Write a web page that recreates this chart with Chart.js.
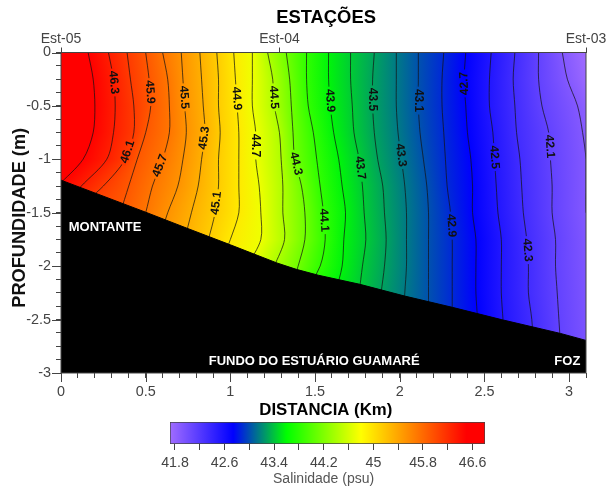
<!DOCTYPE html>
<html>
<head>
<meta charset="utf-8">
<title>Salinidade</title>
<script src="https://cdn.jsdelivr.net/npm/chart.js@4"></script>
<style>
    body { margin: 0; background: #fff; }
    #wrap { position: relative; width: 614px; height: 489px; }
    #mainChart { position: absolute; left: 0; top: 0; }
    #barChart { position: absolute; left: 130px; top: 413px; }
</style>
</head>
<body>
<div id="wrap">
    <canvas id="mainChart" width="614" height="489"></canvas>
    <canvas id="barChart" width="380" height="76"></canvas>
</div>
<script>
// depth levels (m) shared by every contour
const depthLevels = [0, -0.25, -0.5, -0.75, -1, -1.25, -1.5, -1.75, -2, -2.25, -2.5, -2.75];

// contour values (psu) and their distance (km) at each depth level
const contourValues = [46.5, 46.3, 46.1, 45.9, 45.7, 45.5, 45.3, 45.1, 44.9, 44.7, 44.5, 44.3, 44.1, 43.9, 43.7, 43.5, 43.3, 43.1, 42.9, 42.7, 42.5, 42.3, 42.1, 41.9];
const c465 = [0.16, 0.19, 0.20, 0.19, 0.13, -0.02];
const c463 = [0.28, 0.31, 0.32, 0.31, 0.27, 0.12, -0.02];
const c461 = [0.39, 0.41, 0.43, 0.43, 0.38, 0.25, 0.08, -0.01];
const c459 = [0.50, 0.52, 0.53, 0.50, 0.45, 0.40, 0.35, 0.30];
const c457 = [0.60, 0.63, 0.64, 0.64, 0.60, 0.54, 0.50, 0.45];
const c455 = [0.71, 0.72, 0.73, 0.74, 0.72, 0.69, 0.63, 0.58];
const c453 = [0.82, 0.83, 0.84, 0.85, 0.83, 0.81, 0.77, 0.73];
const c451 = [0.92, 0.93, 0.93, 0.94, 0.93, 0.93, 0.91, 0.87, 0.82];
const c449 = [1.02, 1.03, 1.04, 1.05, 1.05, 1.05, 1.05, 1.00, 0.94];
const c447 = [1.13, 1.13, 1.13, 1.15, 1.15, 1.17, 1.18, 1.18, 1.10];
const c445 = [1.22, 1.25, 1.26, 1.29, 1.30, 1.31, 1.31, 1.32, 1.26];
const c443 = [1.33, 1.35, 1.36, 1.37, 1.38, 1.42, 1.44, 1.44, 1.40, 1.35];
const c441 = [1.45, 1.45, 1.46, 1.49, 1.51, 1.53, 1.55, 1.56, 1.53, 1.44];
const c439 = [1.58, 1.58, 1.59, 1.61, 1.64, 1.66, 1.68, 1.67, 1.66, 1.62];
const c437 = [1.71, 1.71, 1.72, 1.73, 1.76, 1.78, 1.79, 1.80, 1.78, 1.76];
const c435 = [1.85, 1.84, 1.84, 1.85, 1.87, 1.90, 1.91, 1.92, 1.91, 1.89, 1.87];
const c433 = [1.98, 1.98, 1.98, 1.99, 2.01, 2.03, 2.04, 2.04, 2.04, 2.03, 2.02];
const c431 = [2.11, 2.11, 2.11, 2.12, 2.14, 2.16, 2.17, 2.17, 2.17, 2.17, 2.17];
const c429 = [2.26, 2.25, 2.25, 2.26, 2.27, 2.28, 2.30, 2.31, 2.31, 2.31, 2.31];
const c427 = [2.39, 2.38, 2.39, 2.40, 2.42, 2.43, 2.43, 2.45, 2.45, 2.45, 2.46];
const c425 = [2.54, 2.53, 2.53, 2.55, 2.56, 2.57, 2.58, 2.60, 2.60, 2.60, 2.61];
const c423 = [2.68, 2.67, 2.68, 2.69, 2.71, 2.72, 2.73, 2.75, 2.76, 2.76, 2.78, 2.79];
const c421 = [2.82, 2.82, 2.84, 2.88, 2.89, 2.90, 2.90, 2.92, 2.92, 2.93, 2.94, 2.95];
const c419 = [2.96, 2.99, 3.05, 3.08, 3.10, 3.10, 3.10, 3.12, 3.13, 3.14, 3.15, 3.16];
const contourDist = [c465, c463, c461, c459, c457, c455, c453, c451, c449, c447, c445, c443, c441, c439, c437, c435, c433, c431, c429, c427, c425, c423, c421, c419];

// river bed
const bedDist = [0, 0.5, 0.744, 1.0, 1.275, 1.39, 1.52, 1.765, 2.03, 2.31, 2.6, 2.95, 3.1];
const bedDepth = [-1.195, -1.495, -1.645, -1.80, -1.97, -2.03, -2.085, -2.17, -2.28, -2.385, -2.5, -2.63, -2.695];

// contour labels
const labelValues = [46.3, 45.9, 45.5, 44.9, 44.5, 43.9, 43.5, 43.1, 42.7, 46.1, 45.7, 45.3, 44.7, 44.3, 43.7, 43.3, 42.5, 42.1, 45.1, 44.1, 42.9, 42.3];
const labelDepths = [-0.28, -0.37, -0.42, -0.43, -0.42, -0.45, -0.44, -0.45, -0.29, -0.93, -1.06, -0.80, -0.87, -1.04, -1.08, -0.96, -0.98, -0.88, -1.41, -1.57, -1.62, -1.85];
const labelsUpward = [46.1, 45.7, 45.3, 45.1, 42.7];

// text on the black area
const noteTexts = ['MONTANTE', 'FUNDO DO ESTUÁRIO GUAMARÉ', 'FOZ'];
const noteDist = [0.26, 1.495, 2.99];
const noteDepth = [-1.64, -2.89, -2.89];

// axes
const xMajorTicks = [0, 0.5, 1, 1.5, 2, 2.5, 3];
const yMajorTicks = [0, -0.5, -1, -1.5, -2, -2.5, -3];
const stationDist = [0, 1.29, 3.1];
const stationNames = ['Est-05', 'Est-04', 'Est-03'];

// colour bar
const barMin = 41.72;
const barMax = 46.8;
const barTicks = [41.8, 42.2, 42.6, 43, 43.4, 43.8, 44.2, 44.6, 45, 45.4, 45.8, 46.2, 46.6];
const barLabels = [41.8, 42.6, 43.4, 44.2, 45, 45.8, 46.6];
const barColorValues = [41.72, 42.74, 43.17, 43.6, 44.8, 46.5, 46.8];
// the section reads slightly differently from its bar
const fieldColorValues = [41.72, 42.7, 43.33, 43.95, 44.75, 46.5, 46.8];
const colorRgb = [[160, 108, 255], [0, 0, 255], [0, 128, 128], [0, 255, 0], [255, 255, 0], [255, 0, 0], [255, 0, 0]];

const sansFont = "'Liberation Sans', Arial, sans-serif";
const tickColor = '#444';

function colorOf(value, stops) {
    if (value <= stops[0]) return `rgb(${colorRgb[0].join(',')})`;
    for (let i = 1; i < stops.length; i++) {
        if (value <= stops[i]) {
            const t = (value - stops[i - 1]) / (stops[i] - stops[i - 1]);
            const c = colorRgb[i].map((v, k) => Math.round(colorRgb[i - 1][k] + (v - colorRgb[i - 1][k]) * t));
            return `rgb(${c.join(',')})`;
        }
    }
    return `rgb(${colorRgb[colorRgb.length - 1].join(',')})`;
}

// distance of a contour at a given depth
function distAtDepth(dist, depth) {
    for (let i = 0; i < dist.length - 1; i++) {
        if (depth <= depthLevels[i] && depth >= depthLevels[i + 1]) {
            const t = (depthLevels[i] - depth) / (depthLevels[i] - depthLevels[i + 1]);
            return dist[i] + (dist[i + 1] - dist[i]) * t;
        }
    }
    return dist[dist.length - 1];
}

// colour field, one gradient per pixel row, stops sit on the contours
const fieldPlugin = {
    id: 'field',
    beforeDatasetsDraw(chart) {
        const { ctx, chartArea: a, scales: { x, y } } = chart;
        const x0 = x.getPixelForValue(-1);
        const x1 = x.getPixelForValue(4);
        const off = px => Math.min(1, Math.max(0, (px - x0) / (x1 - x0)));
        ctx.save();
        for (let py = Math.floor(a.top); py < a.bottom; py++) {
            const depth = y.getValueForPixel(py + 0.5);
            const g = ctx.createLinearGradient(x0, 0, x1, 0);
            const first = distAtDepth(contourDist[0], depth);
            const last = distAtDepth(contourDist[contourDist.length - 1], depth);
            g.addColorStop(off(x.getPixelForValue(first - 0.2)), colorOf(46.8, fieldColorValues));
            contourValues.forEach((v, i) => {
                g.addColorStop(off(x.getPixelForValue(distAtDepth(contourDist[i], depth))), colorOf(v, fieldColorValues));
            });
            g.addColorStop(off(x.getPixelForValue(last + 0.14)), colorOf(41.72, fieldColorValues));
            ctx.fillStyle = g;
            ctx.fillRect(a.left, py, a.right - a.left, 1);
        }
        ctx.restore();
    }
};

// contour labels, notes, frame and the long ticks
const overlayPlugin = {
    id: 'overlay',
    afterDatasetsDraw(chart) {
        const { ctx, chartArea: a, scales: { x, y } } = chart;
        ctx.save();
        ctx.textAlign = 'center';
        ctx.textBaseline = 'middle';

        labelValues.forEach((v, i) => {
            const dist = contourDist[contourValues.indexOf(v)];
            const depth = labelDepths[i];
            const px = x.getPixelForValue(distAtDepth(dist, depth));
            const py = y.getPixelForValue(depth);
            const dx = x.getPixelForValue(distAtDepth(dist, depth - 0.05)) - x.getPixelForValue(distAtDepth(dist, depth + 0.05));
            const dy = y.getPixelForValue(depth - 0.05) - y.getPixelForValue(depth + 0.05);
            let angle = Math.atan2(dy, dx);
            if (labelsUpward.includes(v)) angle += Math.PI;
            ctx.save();
            ctx.translate(px, py);
            ctx.rotate(angle);
            ctx.fillStyle = colorOf(v, fieldColorValues);
            ctx.fillRect(-14, -2, 28, 4);
            ctx.fillStyle = '#111';
            ctx.font = `bold 12px ${sansFont}`;
            ctx.fillText(String(v), 0, 0);
            ctx.restore();
        });

        ctx.fillStyle = '#fff';
        ctx.font = `bold 13px ${sansFont}`;
        noteTexts.forEach((t, i) => {
            ctx.fillText(t, x.getPixelForValue(noteDist[i]), y.getPixelForValue(noteDepth[i]));
        });

        ctx.strokeStyle = '#444';
        ctx.lineWidth = 1;
        ctx.strokeRect(a.left, a.top, a.right - a.left, a.bottom - a.top);
        ctx.beginPath();
        xMajorTicks.forEach(v => {
            const px = Math.round(x.getPixelForValue(v)) + 0.5;
            ctx.moveTo(px, a.bottom);
            ctx.lineTo(px, a.bottom + 9);
        });
        yMajorTicks.forEach(v => {
            const py = Math.round(y.getPixelForValue(v)) + 0.5;
            ctx.moveTo(a.left, py);
            ctx.lineTo(a.left - 9, py);
        });
        ctx.stroke();
        ctx.restore();
    }
};

const datasets = contourValues.map((v, i) => ({
    label: String(v),
    data: contourDist[i].map((d, k) => ({ x: d, y: depthLevels[k] })),
    showLine: true,
    borderColor: 'rgba(20,20,20,0.72)',
    borderWidth: 1,
    pointRadius: 0,
    tension: 0.3,
    fill: false
}));

datasets.push({
    label: 'fundo',
    data: bedDist.map((d, k) => ({ x: d, y: bedDepth[k] })),
    showLine: true,
    borderColor: '#000',
    borderWidth: 1,
    pointRadius: 0,
    backgroundColor: '#000',
    fill: 'start',
    order: -1
});

const isMajor = (list, v) => list.some(m => Math.abs(m - v) < 1e-6);

new Chart(document.getElementById('mainChart'), {
    type: 'scatter',
    data: { datasets: datasets },
    plugins: [fieldPlugin, overlayPlugin],
    options: {
        responsive: false,
        animation: false,
        layout: { padding: { right: 28 } },
        plugins: { legend: { display: false }, tooltip: { enabled: false } },
        scales: {
            x: {
                type: 'linear',
                min: 0,
                max: 3.1,
                afterFit: s => { s.height = 116; },
                grid: { drawOnChartArea: false, tickLength: 5, tickColor: tickColor },
                border: { display: false },
                ticks: {
                    stepSize: 0.1,
                    autoSkip: false,
                    maxRotation: 0,
                    padding: 5,
                    color: tickColor,
                    font: { family: sansFont, size: 14.4 },
                    callback: v => isMajor(xMajorTicks, v) ? String(Math.round(v * 10) / 10) : ''
                },
                title: {
                    display: true,
                    text: ' DISTANCIA (Km)',
                    color: '#000',
                    font: { family: sansFont, size: 16.8, weight: 'bold' },
                    padding: { top: 0, bottom: 69 }
                }
            },
            x2: {
                type: 'linear',
                position: 'top',
                min: 0,
                max: 3.1,
                afterBuildTicks: s => { s.ticks = stationDist.map(v => ({ value: v })); },
                afterFit: s => { s.height = 52.5; },
                grid: { drawOnChartArea: false, tickLength: 5, tickColor: tickColor },
                border: { display: false },
                ticks: {
                    autoSkip: false,
                    maxRotation: 0,
                    padding: 0,
                    color: tickColor,
                    font: { family: sansFont, size: 14 },
                    callback: (v, i) => stationNames[i]
                },
                title: {
                    display: true,
                    text: ' ESTAÇÕES',
                    color: '#000',
                    font: { family: sansFont, size: 18.4, weight: 'bold' },
                    padding: { top: 7, bottom: 0 }
                }
            },
            y: {
                type: 'linear',
                min: -3,
                max: 0,
                afterFit: s => { s.width = 61; },
                grid: { drawOnChartArea: false, tickLength: 5, tickColor: tickColor },
                border: { display: false },
                ticks: {
                    stepSize: 0.125,
                    autoSkip: false,
                    padding: 5,
                    color: tickColor,
                    font: { family: sansFont, size: 14.4 },
                    callback: v => isMajor(yMajorTicks, v) ? String(Math.round(v * 10) / 10) : ''
                },
                title: {
                    display: true,
                    text: 'PROFUNDIDADE (m)  ',
                    color: '#111',
                    font: { family: sansFont, size: 18.2, weight: 'bold' },
                    padding: { top: 9, bottom: 0 }
                }
            }
        }
    }
});

// colour bar below the section
new Chart(document.getElementById('barChart'), {
    type: 'bar',
    data: {
        labels: ['Salinidade'],
        datasets: [{
            data: [[barMin, barMax]],
            barPercentage: 1,
            categoryPercentage: 1,
            borderColor: '#444',
            borderWidth: 1,
            borderSkipped: false,
            backgroundColor: c => {
                const { ctx, scales: { x } } = c.chart;
                if (!x || !c.chart.chartArea) return '#888';
                const x0 = x.getPixelForValue(barMin);
                const x1 = x.getPixelForValue(barMax);
                const g = ctx.createLinearGradient(x0, 0, x1, 0);
                barColorValues.forEach(v => g.addColorStop((v - barMin) / (barMax - barMin), colorOf(v, barColorValues)));
                return g;
            }
        }]
    },
    options: {
        indexAxis: 'y',
        responsive: false,
        animation: false,
        layout: { padding: { left: 40, right: 25, top: 9, bottom: 0 } },
        plugins: { legend: { display: false }, tooltip: { enabled: false } },
        scales: {
            y: { display: false },
            x: {
                type: 'linear',
                min: barMin,
                max: barMax,
                afterBuildTicks: s => { s.ticks = barTicks.map(v => ({ value: v })); },
                afterFit: s => { s.height = 45; },
                grid: { drawOnChartArea: false, tickLength: 6, tickColor: tickColor },
                border: { display: false },
                ticks: {
                    autoSkip: false,
                    maxRotation: 0,
                    padding: 5,
                    color: tickColor,
                    font: { family: sansFont, size: 14.2 },
                    callback: v => barLabels.includes(v) ? String(v) : ''
                },
                title: {
                    display: true,
                    text: 'Salinidade (psu)  ',
                    color: '#555',
                    font: { family: sansFont, size: 14 },
                    padding: { top: 0, bottom: 1 }
                }
            }
        }
    }
});
</script>
</body>
</html>
